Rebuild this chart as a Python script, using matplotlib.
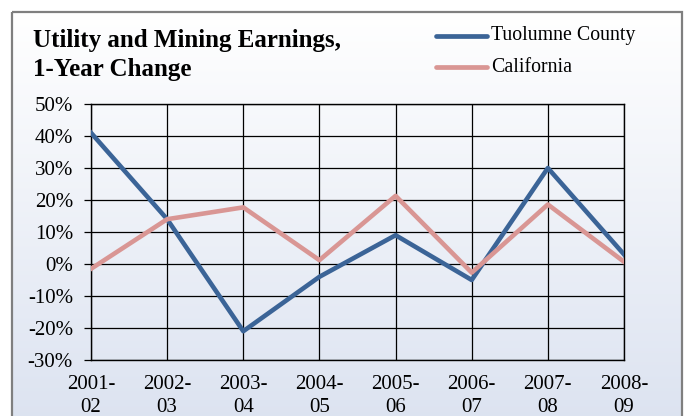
"""Utility and Mining Earnings, 1-year change: Tuolumne County vs California."""
import numpy as np
import matplotlib
matplotlib.use("Agg")
import matplotlib.pyplot as plt
from matplotlib.patches import Rectangle
from matplotlib.lines import Line2D
from matplotlib.ticker import FuncFormatter

# ---- data ----
periods = ["2001-\n02", "2002-\n03", "2003-\n04", "2004-\n05",
           "2005-\n06", "2006-\n07", "2007-\n08", "2008-\n09"]
tuolumne = [41, 14, -21, -4, 9, -5, 30, 3]
california = [-1.5, 14, 17.7, 1.2, 21.3, -2.7, 18.6, 0.7]
y_ticks = [-30, -20, -10, 0, 10, 20, 30, 40, 50]

BLUE = "#3b6497"
PINK = "#d99694"
W, H = 685, 416
plt.rcParams["font.family"] = ["Liberation Serif", "DejaVu Serif"]

fig = plt.figure(figsize=(W / 100, H / 100), dpi=100)

# ---- background: framed panel with white -> pale blue gradient ----
bg = fig.add_axes([0, 0, 1, 1])
bg.set_xlim(0, W); bg.set_ylim(H, 0); bg.axis("off")
grad = np.linspace(0, 1, 256)[:, None]
top = np.array([1.0, 1.0, 1.0]); bot = np.array([0xdb, 0xe2, 0xf0]) / 255
img = top + (bot - top) * grad[..., None]
bg.imshow(img, extent=[12, 682, H + 20, 12], aspect="auto", zorder=0)
bg.add_patch(Rectangle((12, 12), 670, H + 20, fill=False, ec="#7f7f7f", lw=1.6, zorder=1))

# title
bg.text(33, 47, "Utility and Mining Earnings,", fontsize=18, fontweight="bold", va="baseline")
bg.text(33, 76, "1-Year Change", fontsize=18, fontweight="bold", va="baseline")

# legend (drawn by hand to match placement)
for yy, col, lab in [(35.5, BLUE, "Tuolumne County"), (67, PINK, "California")]:
    bg.add_line(Line2D([436, 487], [yy, yy], color=col, lw=3.4, solid_capstyle="round"))
    bg.text(491, yy, lab, fontsize=14.3, va="center")

# ---- main chart ----
ax = fig.add_axes([91 / W, 1 - 360 / H, (624 - 91) / W, (360 - 104) / H])
ax.patch.set_alpha(0)
x = np.arange(len(periods))
ax.plot(x, tuolumne, color=BLUE, lw=3.3, zorder=3)
ax.plot(x, california, color=PINK, lw=3.3, zorder=3)

ax.set_xlim(0, len(periods) - 1)
ax.set_ylim(-30, 50)
ax.set_yticks(y_ticks)
ax.yaxis.set_major_formatter(FuncFormatter(lambda v, _: f"{v:.0f}%"))
ax.set_xticks(x, periods)
ax.grid(True, color="black", lw=0.9)
ax.tick_params(axis="y", length=5, width=0.9, labelsize=15, pad=8)
ax.tick_params(axis="x", length=0, labelsize=15, pad=11)
for lab in ax.get_xticklabels():
    lab.set_linespacing(1.25)
for s in ax.spines.values():
    s.set_color("black"); s.set_linewidth(1.0)

fig.savefig("out.png", dpi=100)
